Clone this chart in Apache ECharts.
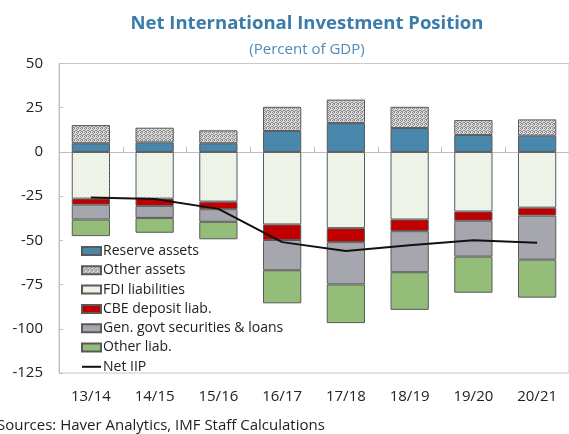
<!DOCTYPE html>
<html>
<head>
<meta charset="utf-8">
<script src="https://cdn.jsdelivr.net/npm/echarts@6/dist/echarts.min.js"></script>
<style>
  html, body { margin: 0; padding: 0; background: #fff; }
  #chart { width: 569px; height: 434px; }
</style>
</head>
<body>
<div id="chart"></div>
<script>
var years = ['13/14', '14/15', '15/16', '16/17', '17/18', '18/19', '19/20', '20/21'];
var reserveAssets = [4.9, 5.4, 4.9, 11.8, 16.3, 13.5, 9.6, 9.2];
var otherAssets = [10.3, 8.3, 7.3, 13.7, 13.3, 12.0, 8.4, 9.2];
var fdiLiab = [-26.4, -26.4, -28.1, -41.0, -43.1, -38.2, -33.7, -31.5];
var cbeDeposit = [-3.4, -4.1, -4.3, -8.8, -7.9, -6.6, -5.2, -4.5];
var govtSecurities = [-8.4, -6.8, -7.1, -17.1, -23.9, -23.2, -20.3, -24.9];
var otherLiab = [-9.4, -8.4, -9.9, -18.7, -21.9, -21.3, -20.4, -21.5];
var netIIP = [-25.7, -26.6, -32.2, -51.0, -56.0, -52.8, -50.0, -51.3];

var fontName = '"Open Sans", "Noto Sans", sans-serif';

// small dotted fills like the excel patterns
function makePattern(bg, dot, cells) {
  var c = document.createElement('canvas');
  c.width = 4;
  c.height = 4;
  var ctx = c.getContext('2d');
  ctx.fillStyle = bg;
  ctx.fillRect(0, 0, 4, 4);
  ctx.fillStyle = dot;
  for (var i = 0; i < cells.length; i++) {
    ctx.fillRect(cells[i][0], cells[i][1], 1, 1);
  }
  return { image: c, repeat: 'repeat' };
}

var otherAssetsFill = makePattern('#dcdcdc', '#8c8c8c',
  [[0, 0], [2, 0], [1, 1], [3, 2], [0, 2], [2, 3], [1, 3]]);
var fdiFill = makePattern('#f1f6ec', '#d9e5cf', [[0, 0], [2, 2]]);

var edge = '#5a5a5a';

function barSeries(name, values, fill) {
  return {
    name: name,
    type: 'bar',
    stack: 'iip',
    barWidth: '60%',
    data: values,
    itemStyle: { color: fill, borderColor: edge, borderWidth: 1 },
    emphasis: { disabled: true }
  };
}

var chart = echarts.init(document.getElementById('chart'));
var option = {
  animation: false,
  textStyle: { fontFamily: fontName },
  title: [
    {
      text: 'Net International Investment Position',
      left: 302,
      top: 9,
      textAlign: 'center',
      textStyle: { fontSize: 18.5, fontWeight: 'bold', color: '#3b7cab', fontFamily: fontName }
    },
    {
      text: '(Percent of GDP)',
      left: 302,
      top: 37,
      textAlign: 'center',
      textStyle: { fontSize: 15, fontWeight: 'normal', color: '#4f8bb8', fontFamily: fontName }
    },
    {
      text: 'Sources: Haver Analytics, IMF Staff Calculations',
      left: -8,
      top: 413,
      textStyle: { fontSize: 15, fontWeight: 'normal', color: '#222', fontFamily: fontName }
    }
  ],
  legend: {
    orient: 'vertical',
    left: 81,
    top: 244,
    padding: 0,
    itemWidth: 19,
    itemHeight: 8,
    itemGap: 5.3,
    icon: 'rect',
    textStyle: { fontSize: 14, color: '#222', lineHeight: 14, padding: [0, 0, 0, -3] },
    data: ['Reserve assets', 'Other assets', 'FDI liabilities', 'CBE deposit liab.',
      'Gen. govt securities & loans', 'Other liab.',
      { name: 'Net IIP', icon: 'path://M0,0H19V2H0Z' }]
  },
  grid: {
    left: 59,
    right: -10,
    top: 63.5,
    bottom: 61,
    show: true,
    borderColor: '#c8c8c8',
    borderWidth: 1
  },
  xAxis: [
    {
      type: 'category',
      data: years,
      axisLine: { onZero: true, lineStyle: { color: '#bdbdbd', width: 1 } },
      axisTick: { show: true, inside: true, length: 5, lineStyle: { color: '#bdbdbd' } },
      axisLabel: { show: false }
    },
    {
      type: 'category',
      data: years,
      position: 'bottom',
      axisLine: { onZero: false, show: false },
      axisTick: { show: false },
      axisLabel: { margin: 16, fontSize: 15, color: '#222' }
    }
  ],
  yAxis: {
    type: 'value',
    min: -125,
    max: 50,
    interval: 25,
    axisLine: { show: true, lineStyle: { color: '#bdbdbd' } },
    axisTick: { show: true, inside: true, length: 4, lineStyle: { color: '#bdbdbd' } },
    axisLabel: { margin: 16, fontSize: 15, color: '#222' },
    splitLine: { show: false }
  },
  series: [
    barSeries('Reserve assets', reserveAssets, '#4a87ad'),
    barSeries('Other assets', otherAssets, otherAssetsFill),
    barSeries('FDI liabilities', fdiLiab, fdiFill),
    barSeries('CBE deposit liab.', cbeDeposit, '#c00000'),
    barSeries('Gen. govt securities & loans', govtSecurities, '#a6a6ae'),
    barSeries('Other liab.', otherLiab, '#93bd79'),
    {
      name: 'Net IIP',
      type: 'line',
      data: netIIP,
      symbol: 'none',
      z: 5,
      lineStyle: { color: '#111', width: 2 },
      itemStyle: { color: '#111' }
    }
  ]
};
chart.setOption(option);
</script>
</body>
</html>
